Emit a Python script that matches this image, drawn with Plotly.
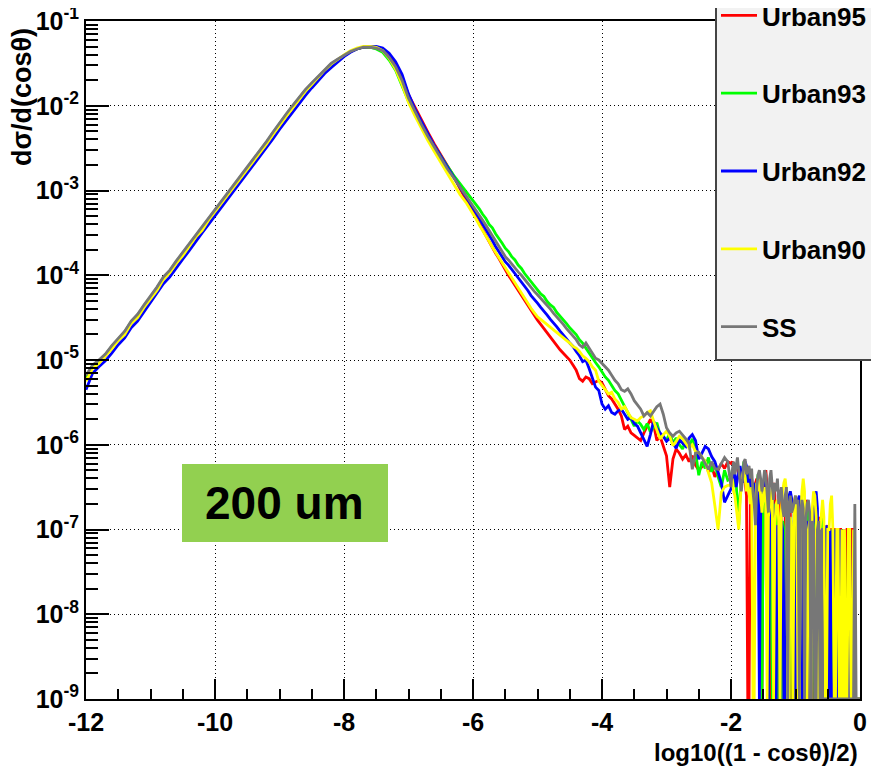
import numpy as np
import plotly.graph_objects as go

# ---------------- data ----------------
# bin centres of log10((1-cos)/2): coarse on the smooth part, finer in the noisy tail
x_coarse = np.round(np.arange(-12.0, -6.05, 0.1), 2)   # 60 bins
x_mid = np.round(np.arange(-6.0, -2.025, 0.05), 2)     # 80 bins
x_fine = np.round(np.arange(-2.0, 0.001, 0.02), 2)     # 101 bins
x_bins = np.concatenate([x_coarse, x_mid, x_fine])

series_names = ["Urban95", "Urban93", "Urban92", "Urban90", "SS"]
series_colors = ["#ff0000", "#00ff00", "#0000ff", "#ffff00", "#777777"]

# log10 of dsigma/d(cos theta); -9.0 = empty bin (drawn at the floor)
urban95_log10 = [
    -5.22, -5.08, -5.02, -4.95, -4.85, -4.76, -4.68, -4.56, -4.48, -4.37,
    -4.27, -4.16, -4.04, -3.96, -3.85, -3.75, -3.65, -3.54, -3.45, -3.34,
    -3.24, -3.14, -3.04, -2.94, -2.84, -2.74, -2.65, -2.54, -2.44, -2.33,
    -2.22, -2.12, -2.02, -1.92, -1.82, -1.74, -1.66, -1.58, -1.51, -1.46,
    -1.41, -1.36, -1.33, -1.31, -1.31, -1.32, -1.35, -1.42, -1.52, -1.67,
    -1.87, -2.02, -2.17, -2.31, -2.45, -2.58, -2.71, -2.83, -2.98, -3.12,
    -3.25, -3.32, -3.39, -3.46, -3.53, -3.60, -3.67, -3.74, -3.80, -3.87,
    -3.94, -4.00, -4.06, -4.12, -4.18, -4.24, -4.30, -4.36, -4.42, -4.48,
    -4.53, -4.58, -4.63, -4.68, -4.74, -4.78, -4.84, -4.88, -4.92, -4.96,
    -5.00, -5.06, -5.12, -5.22, -5.25, -5.20, -5.22, -5.28, -5.26, -5.24,
    -5.27, -5.34, -5.42, -5.46, -5.52, -5.58, -5.66, -5.82, -5.78, -5.86,
    -5.89, -5.92, -5.95, -5.86, -5.78, -5.70, -5.76, -5.95, -5.90, -6.02,
    -6.13, -6.50, -6.17, -6.05, -6.10, -6.17, -6.12, -6.20, -6.13, -6.24,
    -6.30, -6.26, -6.18, -6.32, -6.25, -6.38, -6.30, -6.22, -6.28, -6.20,
    -6.22, -6.20, -6.25, -6.30, -6.24, -6.28, -6.35, -6.30, -6.40, -6.33,
    -6.38, -6.45, -6.60, -9.0, -9.0, -6.55, -6.40, -6.50, -6.65, -6.45,
    -6.40, -6.55, -6.48, -6.70, -9.0, -6.60, -6.42, -6.30, -6.50, -6.75,
    -9.0, -6.80, -6.55, -6.45, -6.60, -9.0, -9.0, -6.70, -6.62, -6.90,
    -7.0, -9.0, -6.85, -6.70, -9.0, -7.0, -6.80, -9.0, -9.0, -6.90,
    -6.75, -7.0, -9.0, -9.0, -6.95, -7.0, -9.0, -6.70, -6.65, -6.85,
    -9.0, -7.0, -6.90, -9.0, -7.0, -9.0, -9.0, -7.0, -6.85, -9.0,
    -7.0, -7.0, -9.0, -9.0, -7.0, -6.95, -9.0, -7.0, -7.0, -9.0,
    -9.0, -7.0, -7.0, -9.0, -7.0, -7.0, -9.0, -9.0, -7.0, -9.0,
    -7.0, -7.0, -9.0, -7.0, -7.0, -7.0, -9.0, -9.0, -9.0, -9.0, -9.0,
]

urban93_log10 = [
    -5.20, -5.07, -5.01, -4.94, -4.84, -4.75, -4.67, -4.55, -4.47, -4.36,
    -4.26, -4.15, -4.03, -3.95, -3.84, -3.74, -3.64, -3.53, -3.44, -3.33,
    -3.23, -3.13, -3.03, -2.93, -2.83, -2.73, -2.64, -2.53, -2.43, -2.32,
    -2.21, -2.11, -2.01, -1.91, -1.82, -1.74, -1.66, -1.58, -1.51, -1.46,
    -1.41, -1.36, -1.33, -1.31, -1.31, -1.33, -1.37, -1.46, -1.58, -1.76,
    -1.95, -2.10, -2.24, -2.36, -2.48, -2.60, -2.71, -2.82, -2.92, -3.02,
    -3.11, -3.17, -3.22, -3.28, -3.33, -3.40, -3.44, -3.51, -3.56, -3.62,
    -3.68, -3.72, -3.78, -3.82, -3.88, -3.92, -3.98, -4.03, -4.08, -4.12,
    -4.17, -4.22, -4.25, -4.31, -4.35, -4.38, -4.44, -4.48, -4.53, -4.57,
    -4.62, -4.66, -4.70, -4.76, -4.80, -4.86, -4.92, -4.97, -5.03, -5.08,
    -5.14, -5.20, -5.24, -5.30, -5.36, -5.40, -5.47, -5.55, -5.62, -5.70,
    -5.78, -5.72, -5.76, -5.82, -5.75, -5.85, -5.80, -5.74, -5.88, -5.90,
    -5.95, -5.86, -5.98, -5.92, -6.00, -6.05, -5.94, -6.02, -5.93, -6.08,
    -6.36, -6.20, -6.28, -6.15, -6.32, -6.22, -6.38, -6.50, -6.30, -6.42,
    -6.40, -6.30, -6.35, -6.50, -6.45, -6.70, -6.95, -6.60, -6.40, -6.30,
    -6.20, -6.35, -6.45, -6.40, -6.30, -6.50, -6.60, -6.45, -6.70, -6.55,
    -6.50, -6.35, -6.45, -6.60, -9.0, -6.70, -6.55, -6.65, -6.80, -9.0,
    -6.75, -6.60, -9.0, -6.90, -6.70, -6.80, -9.0, -7.0, -6.85, -9.0,
    -6.90, -7.0, -9.0, -6.80, -6.75, -9.0, -7.0, -6.95, -9.0, -6.80,
    -6.70, -9.0, -7.0, -9.0, -6.90, -6.80, -7.0, -9.0, -9.0, -6.75,
    -6.70, -6.95, -9.0, -7.0, -6.75, -9.0, -7.0, -7.0, -9.0, -9.0,
    -7.0, -6.85, -7.0, -9.0, -7.0, -9.0, -9.0, -7.0, -9.0, -9.0,
    -7.0, -9.0, -9.0, -7.0, -9.0, -9.0, -7.0, -9.0, -9.0, -9.0,
    -9.0, -7.0, -9.0, -9.0, -9.0, -9.0, -9.0, -9.0, -9.0, -9.0, -9.0,
]

urban92_log10 = [
    -5.35, -5.16, -5.08, -5.01, -4.92, -4.82, -4.74, -4.62, -4.54, -4.43,
    -4.33, -4.22, -4.10, -4.02, -3.91, -3.81, -3.71, -3.60, -3.50, -3.40,
    -3.30, -3.20, -3.10, -3.00, -2.90, -2.80, -2.70, -2.60, -2.50, -2.39,
    -2.28, -2.18, -2.07, -1.97, -1.88, -1.79, -1.70, -1.62, -1.55, -1.48,
    -1.42, -1.37, -1.33, -1.31, -1.30, -1.30, -1.32, -1.38, -1.48, -1.63,
    -1.86, -2.04, -2.19, -2.33, -2.47, -2.60, -2.72, -2.84, -2.96, -3.08,
    -3.20, -3.27, -3.33, -3.40, -3.46, -3.53, -3.59, -3.66, -3.72, -3.78,
    -3.84, -3.88, -3.93, -3.98, -4.03, -4.08, -4.12, -4.18, -4.24, -4.28,
    -4.33, -4.38, -4.42, -4.47, -4.52, -4.56, -4.61, -4.66, -4.70, -4.75,
    -4.80, -4.84, -4.90, -4.95, -5.02, -5.00, -5.10, -5.22, -5.32, -5.36,
    -5.52, -5.58, -5.54, -5.62, -5.64, -5.60, -5.58, -5.64, -5.70, -5.68,
    -5.75, -5.78, -5.86, -5.94, -6.02, -5.88, -5.72, -5.80, -5.86, -5.90,
    -5.96, -5.92, -5.98, -6.04, -5.94, -5.98, -6.02, -5.92, -5.88, -5.95,
    -6.17, -6.10, -6.02, -6.05, -6.14, -6.20, -6.33, -6.45, -6.68, -6.60,
    -6.52, -6.45, -6.30, -6.35, -6.50, -6.40, -6.30, -6.25, -6.35, -6.45,
    -6.30, -6.20, -6.25, -6.40, -6.50, -6.35, -6.55, -6.70, -6.45, -6.60,
    -6.50, -6.65, -9.0, -6.75, -6.55, -6.45, -6.38, -6.42, -6.90, -9.0,
    -6.85, -6.70, -6.60, -6.80, -9.0, -9.0, -6.95, -7.0, -9.0, -6.90,
    -7.0, -9.0, -9.0, -6.85, -6.70, -6.60, -6.55, -6.65, -6.75, -6.80,
    -9.0, -6.90, -6.65, -6.60, -6.85, -9.0, -7.0, -9.0, -9.0, -6.90,
    -7.0, -9.0, -9.0, -7.0, -6.90, -6.60, -6.55, -6.75, -9.0, -9.0,
    -7.0, -7.0, -9.0, -9.0, -6.95, -9.0, -9.0, -7.0, -9.0, -9.0,
    -9.0, -7.0, -9.0, -9.0, -9.0, -7.0, -9.0, -9.0, -9.0, -9.0,
    -9.0, -9.0, -7.0, -9.0, -9.0, -9.0, -9.0, -9.0, -9.0, -9.0, -9.0,
]

urban90_log10 = [
    -5.25, -5.10, -5.04, -4.96, -4.87, -4.77, -4.70, -4.57, -4.50, -4.38,
    -4.28, -4.18, -4.05, -3.97, -3.86, -3.77, -3.66, -3.55, -3.47, -3.35,
    -3.25, -3.15, -3.05, -2.95, -2.85, -2.75, -2.66, -2.55, -2.45, -2.34,
    -2.23, -2.13, -2.03, -1.93, -1.83, -1.75, -1.66, -1.58, -1.51, -1.45,
    -1.40, -1.35, -1.32, -1.30, -1.30, -1.31, -1.35, -1.44, -1.57, -1.75,
    -1.96, -2.12, -2.27, -2.41, -2.54, -2.67, -2.80, -2.92, -3.05, -3.15,
    -3.27, -3.34, -3.41, -3.47, -3.54, -3.60, -3.67, -3.73, -3.80, -3.86,
    -3.92, -3.98, -4.04, -4.10, -4.16, -4.22, -4.28, -4.34, -4.39, -4.44,
    -4.49, -4.52, -4.55, -4.58, -4.62, -4.64, -4.68, -4.70, -4.74, -4.77,
    -4.80, -4.84, -4.86, -4.90, -4.95, -4.98, -5.02, -5.08, -5.12, -5.25,
    -5.30, -5.36, -5.40, -5.38, -5.46, -5.50, -5.58, -5.55, -5.62, -5.68,
    -5.70, -5.72, -5.68, -5.66, -5.62, -5.60, -5.72, -5.82, -5.93, -5.88,
    -5.84, -5.90, -6.01, -5.96, -5.90, -5.93, -5.98, -6.04, -6.00, -6.08,
    -6.09, -6.15, -6.20, -6.33, -6.45, -6.72, -7.00, -6.56, -6.50, -6.48,
    -6.48, -6.40, -6.55, -6.60, -6.75, -6.90, -7.0, -6.70, -6.45, -6.35,
    -6.28, -6.40, -6.55, -6.45, -6.60, -6.70, -6.50, -9.0, -9.0, -6.65,
    -6.45, -6.55, -6.40, -6.65, -6.80, -6.60, -6.50, -6.70, -9.0, -6.85,
    -6.75, -6.60, -6.50, -9.0, -6.95, -6.70, -6.65, -6.90, -9.0, -6.80,
    -6.55, -6.45, -6.40, -6.55, -9.0, -9.0, -6.85, -7.0, -9.0, -6.70,
    -6.60, -6.80, -9.0, -9.0, -6.85, -6.55, -6.40, -6.55, -9.0, -9.0,
    -7.0, -6.90, -9.0, -6.75, -6.55, -6.60, -6.85, -9.0, -9.0, -7.0,
    -6.80, -6.65, -6.85, -9.0, -9.0, -7.0, -7.0, -6.70, -6.60, -7.0,
    -9.0, -9.0, -7.0, -7.0, -9.0, -9.0, -7.0, -9.0, -7.0, -9.0,
    -9.0, -7.0, -7.0, -9.0, -9.0, -7.0, -9.0, -9.0, -9.0, -9.0, -9.0,
]

ss_log10 = [
    -5.18, -5.06, -5.00, -4.93, -4.83, -4.74, -4.66, -4.54, -4.46, -4.35,
    -4.25, -4.14, -4.02, -3.94, -3.83, -3.73, -3.63, -3.52, -3.43, -3.32,
    -3.22, -3.12, -3.02, -2.92, -2.82, -2.72, -2.63, -2.52, -2.42, -2.31,
    -2.20, -2.10, -2.00, -1.90, -1.81, -1.73, -1.65, -1.57, -1.50, -1.45,
    -1.40, -1.36, -1.33, -1.31, -1.31, -1.32, -1.35, -1.43, -1.54, -1.70,
    -1.91, -2.07, -2.22, -2.36, -2.49, -2.62, -2.74, -2.85, -2.96, -3.06,
    -3.17, -3.23, -3.29, -3.35, -3.41, -3.47, -3.53, -3.59, -3.65, -3.72,
    -3.78, -3.82, -3.87, -3.91, -3.96, -4.00, -4.05, -4.10, -4.14, -4.19,
    -4.23, -4.27, -4.32, -4.36, -4.40, -4.45, -4.49, -4.54, -4.58, -4.63,
    -4.67, -4.72, -4.76, -4.82, -4.85, -4.80, -4.86, -4.92, -4.98, -5.00,
    -5.04, -5.08, -5.12, -5.18, -5.24, -5.28, -5.35, -5.37, -5.34, -5.40,
    -5.48, -5.53, -5.58, -5.66, -5.62, -5.66, -5.60, -5.55, -5.52, -5.64,
    -5.80, -5.86, -5.90, -5.86, -5.84, -5.88, -5.93, -5.98, -6.29, -6.10,
    -6.09, -6.15, -6.22, -6.29, -6.20, -6.28, -6.29, -6.22, -6.15, -6.20,
    -6.50, -6.30, -6.20, -6.35, -6.25, -6.15, -6.30, -6.45, -6.55, -6.40,
    -6.20, -6.17, -6.35, -6.30, -6.25, -6.40, -6.28, -6.55, -6.70, -6.95,
    -6.50, -6.35, -6.30, -6.40, -6.55, -6.45, -6.30, -6.35, -6.60, -6.80,
    -6.40, -6.30, -6.50, -6.65, -6.45, -6.55, -6.40, -6.70, -6.60, -6.50,
    -6.75, -6.85, -6.60, -6.50, -9.0, -6.70, -6.60, -6.80, -6.75, -6.65,
    -6.60, -6.70, -6.65, -9.0, -6.80, -6.65, -6.75, -9.0, -6.90, -6.70,
    -6.65, -6.80, -9.0, -6.90, -7.0, -9.0, -9.0, -7.0, -6.90, -9.0,
    -7.0, -9.0, -9.0, -9.0, -9.0, -9.0, -9.0, -9.0, -9.0, -9.0,
    -9.0, -9.0, -9.0, -9.0, -9.0, -9.0, -9.0, -9.0, -9.0, -9.0,
    -9.0, -9.0, -9.0, -9.0, -9.0, -9.0, -6.70, -9.0, -9.0, -9.0, -9.0,
]

series_log10 = [urban95_log10, urban93_log10, urban92_log10, urban90_log10, ss_log10]

y_tick_vals = [1e-9, 1e-8, 1e-7, 1e-6, 1e-5, 1e-4, 1e-3, 1e-2, 1e-1]
y_tick_text = ["10<sup>-9</sup>", "10<sup>-8</sup>", "10<sup>-7</sup>", "10<sup>-6</sup>",
               "10<sup>-5</sup>", "10<sup>-4</sup>", "10<sup>-3</sup>", "10<sup>-2</sup>",
               "10<sup>-1</sup>"]
x_tick_vals = [-12, -10, -8, -6, -4, -2, 0]
x_tick_text = ["-12", "-10", "-8", "-6", "-4", "-2", "0"]

label_text = "200 um"
x_title = "log10((1 - cosθ)/2)"
y_title = "dσ/d(cosθ)"

# ---------------- figure ----------------
FONT = "Liberation Sans, Arial, Helvetica, sans-serif"

fig = go.Figure()
for name, color, vals in zip(series_names, series_colors, series_log10):
    assert len(vals) == len(x_bins), (name, len(vals))
    fig.add_trace(go.Scatter(
        x=x_bins, y=[10.0 ** v for v in vals], mode="lines", name=name,
        legendgroup=name,
        line=dict(color=color, width=2.8),
    ))

minor_y = [m * 10.0 ** e for e in range(-9, -1) for m in range(2, 10)]

fig.update_xaxes(
    range=[-12, 0], tickmode="array", tickvals=x_tick_vals, ticktext=x_tick_text,
    ticks="inside", ticklen=20, tickwidth=1.5, tickcolor="black",
    showline=True, linecolor="black", linewidth=2, mirror=True,
    showgrid=True, gridcolor="black", gridwidth=1, griddash="1px,3px",
    zeroline=False, ticklabeloverflow="allow",
    tickfont=dict(family=FONT, size=25, color="black", weight="bold"),
    minor=dict(dtick=0.5, tick0=0, ticks="inside", ticklen=10, tickwidth=1.5,
               tickcolor="black", showgrid=False),
)
fig.update_yaxes(
    type="log", range=[-9, -1], tickmode="array", tickvals=y_tick_vals, ticktext=y_tick_text,
    ticks="inside", ticklen=23, tickwidth=1.5, tickcolor="black",
    showline=True, linecolor="black", linewidth=2, mirror=True,
    showgrid=True, gridcolor="black", gridwidth=1, griddash="1px,3px",
    zeroline=False, ticklabeloverflow="allow",
    tickfont=dict(family=FONT, size=25, color="black", weight="bold"),
    minor=dict(tickmode="array", tickvals=minor_y, ticks="inside", ticklen=12,
               tickwidth=1.5, tickcolor="black", showgrid=False),
)

# the page body adds an 8px offset; plot area lands at x 86..860, y 21..699 on screen
W_PLOT, H_PLOT = 774, 678
OFF = 8

shapes = [
    # legend frame (runs off the top-right corner like the original)
    dict(type="rect", xref="paper", yref="paper",
         x0=(716 - 86) / W_PLOT, x1=1.12, y0=(699 - 360) / H_PLOT, y1=1.1,
         fillcolor="#f2f2f2", line=dict(color="#444444", width=2), layer="above"),
    # green label box
    dict(type="rect", xref="paper", yref="paper",
         x0=(182 - 86) / W_PLOT, x1=(388 - 86) / W_PLOT,
         y0=(699 - 542) / H_PLOT, y1=(699 - 464) / H_PLOT,
         fillcolor="#92d050", line=dict(width=0), layer="above"),
]

annotations = [
    dict(text=label_text, xref="paper", yref="paper",
         x=(284 - 86) / W_PLOT, y=(699 - 503) / H_PLOT, xanchor="center", yanchor="middle",
         showarrow=False, font=dict(family=FONT, size=46, color="black", weight="bold")),
    dict(text=x_title, xref="paper", yref="paper", x=1.0, y=(699 - 752) / H_PLOT,
         xanchor="right", yanchor="middle", showarrow=False,
         font=dict(family=FONT, size=24, color="black", weight="bold")),
    dict(text=y_title, xref="paper", yref="paper", x=(22 - 86) / W_PLOT,
         y=(699 - 97) / H_PLOT, xanchor="center", yanchor="middle", textangle=-90,
         showarrow=False, font=dict(family=FONT, size=27, color="black", weight="bold")),
]

fig.update_layout(
    width=879 - OFF, height=771 - OFF,
    margin=dict(l=86 - OFF, r=19, t=21 - OFF, b=72, autoexpand=False),
    plot_bgcolor="white", paper_bgcolor="white",
    font=dict(family=FONT, size=24, color="black"),
    shapes=shapes, annotations=annotations,
    showlegend=True,
    legend=dict(
        x=(716 - 86) / W_PLOT, xanchor="left", y=1 + 29 / H_PLOT, yanchor="top",
        bgcolor="rgba(0,0,0,0)", borderwidth=0, tracegroupgap=41, itemwidth=36,
        font=dict(family=FONT, size=26, color="black", weight="bold"),
    ),
)

fig.write_html("out.html")
